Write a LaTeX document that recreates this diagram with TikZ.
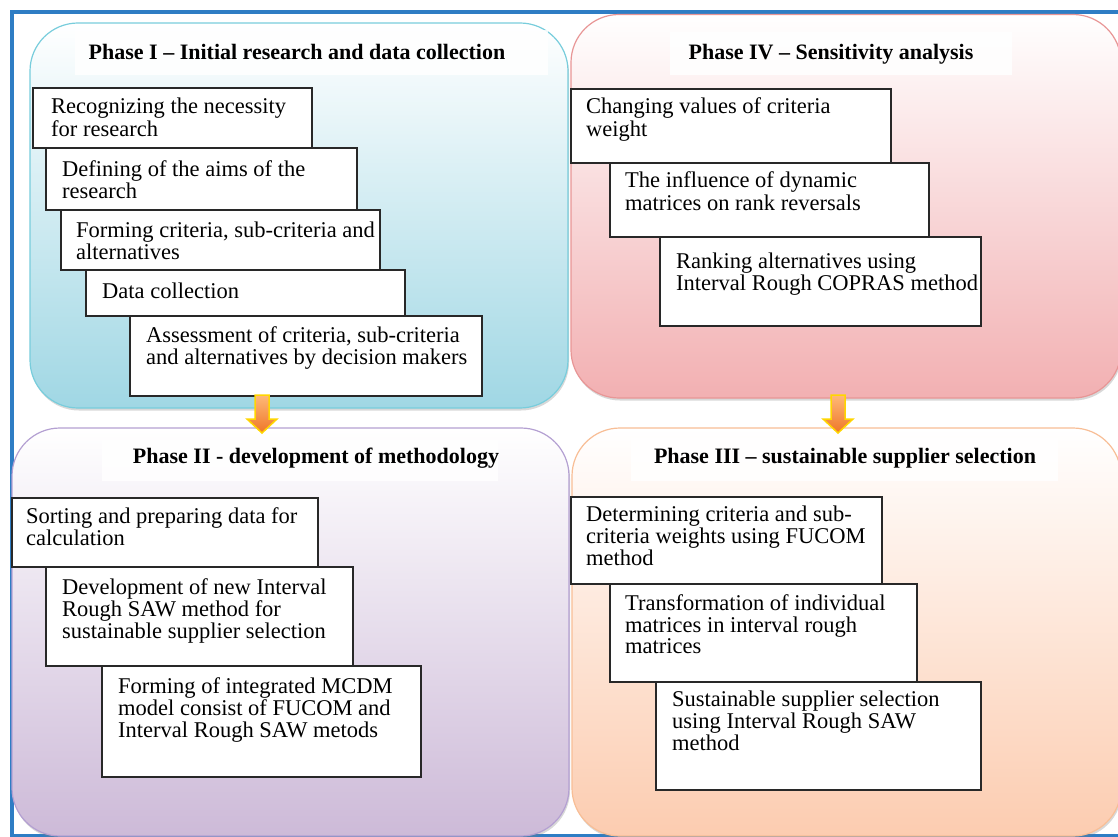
\documentclass[tikz,border=0pt]{standalone}
\usepackage{fontspec}
\setmainfont{Liberation Serif}
\usetikzlibrary{shadows,fit}
\definecolor{frameblue}{RGB}{46,125,196}
\definecolor{pIfill}{RGB}{160,215,228}
\definecolor{pIline}{RGB}{120,205,220}
\definecolor{pIVfill}{RGB}{242,176,178}
\definecolor{pIVline}{RGB}{232,150,150}
\definecolor{pIIfill}{RGB}{205,186,216}
\definecolor{pIIline}{RGB}{180,160,210}
\definecolor{pIIIfill}{RGB}{252,204,176}
\definecolor{pIIIline}{RGB}{248,190,150}
\definecolor{arrtop}{RGB}{255,185,120}
\definecolor{arrbot}{RGB}{238,118,40}
\definecolor{arrline}{RGB}{255,214,0}
\definecolor{boxline}{RGB}{40,40,40}
\newcommand\steplines[1]{\begin{tabular}[t]{@{}l@{}}#1\end{tabular}}
\tikzset{
 panel/.style={rounded corners=48pt, line width=1.2pt, inner sep=0pt,
   drop shadow={shadow xshift=1pt, shadow yshift=-2.5pt, opacity=0.3}},
 titlebg/.style={fill=white, opacity=0.85, draw=none, inner sep=0pt},
 stepbox/.style={draw=boxline, fill=white, line width=1.1pt, inner sep=0pt},
 steptext/.style={anchor=base west, inner sep=0pt, font=\fontsize{22.5}{21.5}\selectfont},
 phasetitle/.style={anchor=base, inner sep=0pt, font=\fontsize{22}{24}\selectfont\bfseries},
 blockarrow/.style={top color=arrtop, bottom color=arrbot, draw=arrline, line width=1.5pt, line join=miter}
}
\begin{document}
\begin{tikzpicture}[x=1pt,y=-1pt]
\useasboundingbox (0,0) rectangle (1118,837);
\fill[white] (0,0) rectangle (1118,837);
\clip (0,0) rectangle (1118,837);
% outer frame (its right side lies beyond the page)
\coordinate (ftr) at (1118,12);
\coordinate (fbr) at (1118,836);
\draw[frameblue, line width=4pt] (ftr) -- (11.5,12) -- (11.5,836) -- (fbr);

% panels
\node[panel, fit={(30,23)(568,408)}, top color=white, bottom color=pIfill, draw=pIline] (p1) {};
\node[panel, fit={(571,14.5)(1121,398)}, top color=white, bottom color=pIVfill, draw=pIVline] (p4) {};
\node[panel, fit={(12,428)(569,836)}, top color=white, bottom color=pIIfill, draw=pIIline] (p2) {};
\node[panel, fit={(572,428)(1121,836)}, top color=white, bottom color=pIIIfill, draw=pIIIline] (p3) {};

% title backgrounds
\node[titlebg, fit={(75,30)(548,75)}] (bg1) {};
\node[titlebg, fit={(670,32)(1012,75)}] (bg4) {};
\node[titlebg, fit={(102,440)(498,481)}] (bg2) {};
\node[titlebg, fit={(631,438)(1058,481)}] (bg3) {};

% titles
\node[phasetitle] (h1) at (297,60) {Phase I – Initial research and data collection};
\node[phasetitle] (h4) at (831,60) {Phase IV – Sensitivity analysis};
\node[phasetitle] (h2) at (316,463) {Phase II - development of methodology};
\node[phasetitle] (h3) at (845,463) {Phase III – sustainable supplier selection};

% Phase I steps
\node[stepbox, fit={(33,88)(312,148)}] (b1) {};
\node[stepbox, fit={(46,148)(357,210)}] (b2) {};
\node[stepbox, fit={(61,210)(380,270)}] (b3) {};
\node[stepbox, fit={(86,270)(405,316)}] (b4) {};
\node[stepbox, fit={(130,316)(482,396)}] (b5) {};
\node[steptext] (tb1) at (51,114) {\steplines{Recognizing the necessity\\for research}};
\node[steptext] (tb2) at (62,176) {\steplines{Defining of the aims of the\\research}};
\node[steptext] (tb3) at (76,237) {\steplines{Forming criteria, sub-criteria and\\alternatives}};
\node[steptext] (tb4) at (102,298) {\steplines{Data collection}};
\node[steptext] (tb5) at (146,342) {\steplines{Assessment of criteria, sub-criteria\\and alternatives by decision makers}};

% Phase IV steps
\node[stepbox, fit={(571,89)(891,163)}] (c1) {};
\node[stepbox, fit={(610,163)(929,237)}] (c2) {};
\node[stepbox, fit={(660,237)(981,326)}] (c3) {};
\node[steptext] (tc1) at (586,114) {\steplines{Changing values of criteria\\weight}};
\node[steptext] (tc2) at (625,188) {\steplines{The influence of dynamic\\matrices on rank reversals}};
\node[steptext] (tc3) at (676,268) {\steplines{Ranking alternatives using\\Interval Rough COPRAS method}};

% Phase II steps
\node[stepbox, fit={(12,498)(318,567)}] (d1) {};
\node[stepbox, fit={(46,567)(353,666)}] (d2) {};
\node[stepbox, fit={(102,666)(421,777)}] (d3) {};
\node[steptext] (td1) at (26,523) {\steplines{Sorting and preparing data for\\calculation}};
\node[steptext] (td2) at (62,594) {\steplines{Development of new Interval\\Rough SAW method for\\sustainable supplier selection}};
\node[steptext] (td3) at (118,693) {\steplines{Forming of integrated MCDM\\model consist of FUCOM and\\Interval Rough SAW metods}};

% Phase III steps
\node[stepbox, fit={(571,497)(882,584)}] (e1) {};
\node[stepbox, fit={(610,584)(917,682)}] (e2) {};
\node[stepbox, fit={(656,682)(981,790)}] (e3) {};
\node[steptext] (te1) at (586,521) {\steplines{Determining criteria and sub-\\criteria weights using FUCOM\\method}};
\node[steptext] (te2) at (625,610) {\steplines{Transformation of individual\\matrices in interval rough\\matrices}};
\node[steptext] (te3) at (672,706) {\steplines{Sustainable supplier selection\\using Interval Rough SAW\\method}};

% block arrows between phases
\coordinate (a1) at (262,395);
\coordinate (a2) at (838,395);
\draw[blockarrow] (a1) ++(-7,0) -- ++(14,0) -- ++(0,24) -- ++(8,0) -- ++(-15,14) -- ++(-15,-14) -- ++(8,0) -- cycle;
\draw[blockarrow] (a2) ++(-7,0) -- ++(14,0) -- ++(0,24) -- ++(8,0) -- ++(-15,14) -- ++(-15,-14) -- ++(8,0) -- cycle;
\end{tikzpicture}
\end{document}
